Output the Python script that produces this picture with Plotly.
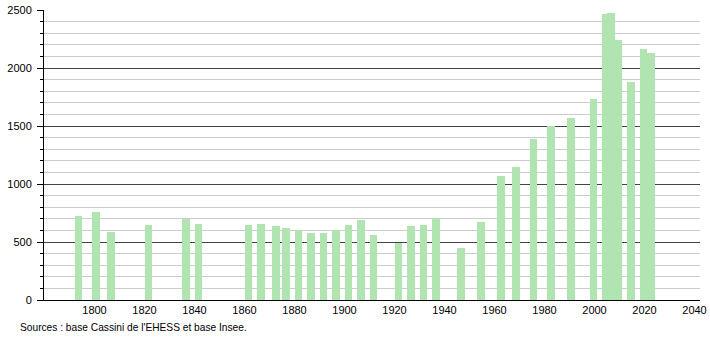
import plotly.graph_objects as go

years = [1793, 1800, 1806, 1821, 1836, 1841, 1861, 1866, 1872, 1876, 1881, 1886,
         1891, 1896, 1901, 1906, 1911, 1921, 1926, 1931, 1936, 1946, 1954, 1962,
         1968, 1975, 1982, 1990, 1999, 2004, 2006, 2009, 2014, 2019, 2022]
population = [720, 760, 590, 648, 697, 656, 648, 656, 638, 621, 604, 578,
              576, 604, 648, 690, 560, 494, 638, 647, 707, 448, 672, 1069,
              1147, 1391, 1500, 1569, 1733, 2466, 2476, 2244, 1877, 2166, 2127]
x_ticks = [1800, 1820, 1840, 1860, 1880, 1900, 1920, 1940, 1960, 1980, 2000, 2020, 2040]
source_text = "Sources : base Cassini de l'EHESS et base Insee."

fig = go.Figure()
fig.add_trace(go.Bar(
    x=years, y=population,
    width=3.1, offset=-1.0,
    marker=dict(color="rgb(176,228,176)", line=dict(width=0)),
    hoverinfo="x+y",
))

fig.update_layout(
    template="none",
    width=710, height=340,
    autosize=False,
    margin=dict(l=44, r=10, t=10, b=40, pad=0),
    paper_bgcolor="white", plot_bgcolor="white",
    showlegend=False,
    font=dict(family="Liberation Sans, Arial, sans-serif", size=11, color="black"),
    xaxis=dict(
        range=[1779.8, 2042.2], automargin=False,
        tickvals=x_ticks, ticktext=[str(t) for t in x_ticks],
        showgrid=False, zeroline=False,
        showline=True, linecolor="black", linewidth=1,
        ticks="", tickfont=dict(size=11, color="black"),
    ),
    yaxis=dict(
        range=[0, 2500], dtick=500, tick0=0, automargin=False,
        showgrid=True, gridcolor="#444444", gridwidth=1,
        zeroline=False,
        showline=True, linecolor="black", linewidth=1,
        ticks="outside", ticklen=6, tickcolor="black", tickwidth=1,
        ticklabelstandoff=3,
        tickfont=dict(size=11, color="black"),
        minor=dict(dtick=100, showgrid=True, gridcolor="#cccccc", gridwidth=1,
                   ticks="outside", ticklen=3, tickcolor="black"),
    ),
    bargap=0,
)

fig.add_annotation(
    text=source_text, xref="paper", yref="paper",
    x=-0.039, y=-0.07, xanchor="left", yanchor="top",
    showarrow=False, font=dict(size=10.2, color="black"),
)

fig.write_html("out.html")
